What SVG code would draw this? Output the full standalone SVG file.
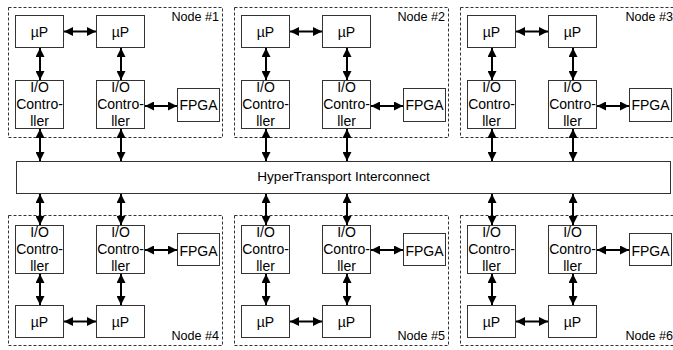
<svg xmlns="http://www.w3.org/2000/svg" width="673" height="350" viewBox="0 0 673 350">
<style>
.bx{fill:#fff;stroke:#333;stroke-width:1}
.ns{fill:none;stroke:#333;stroke-width:1;stroke-dasharray:3,2}
.t{font-family:"Liberation Sans",Arial,sans-serif;font-size:14px;fill:#000;text-anchor:middle}
.h{font-family:"Liberation Sans",Arial,sans-serif;font-size:13.6px;fill:#000;text-anchor:middle}
.lb{font-family:"Liberation Sans",Arial,sans-serif;font-size:12.6px;fill:#000;text-anchor:end}
.c{fill:none;stroke:#000;stroke-width:2;marker-start:url(#ah);marker-end:url(#ah)}
</style>
<defs>
<marker id="ah" viewBox="0 0 10 10" refX="10" refY="5" markerWidth="9" markerHeight="9" markerUnits="userSpaceOnUse" orient="auto-start-reverse">
<path d="M0,0 L10,5 L0,10 z" fill="#000"/>
</marker>
</defs>
<rect width="673" height="350" fill="#fff"/>

<g id="node1">
<rect class="ns" x="8.5" y="7.5" width="214" height="130"/>
<text class="lb" x="219" y="21">Node #1</text>
<rect class="bx" x="15.5" y="15.5" width="48" height="32"/><text class="t" x="39.5" y="37">µP</text>
<rect class="bx" x="96.5" y="15.5" width="48" height="32"/><text class="t" x="120.5" y="37">µP</text>
<rect class="bx" x="15.5" y="80.5" width="48" height="48"/><text class="t" x="39.5" y="92">I/O</text><text class="t" x="39.5" y="109">Contro-</text><text class="t" x="39.5" y="126">ller</text>
<rect class="bx" x="96.5" y="80.5" width="48" height="48"/><text class="t" x="120.5" y="92">I/O</text><text class="t" x="120.5" y="109">Contro-</text><text class="t" x="120.5" y="126">ller</text>
<rect class="bx" x="177.5" y="88.5" width="42" height="33"/><text class="t" x="198.5" y="110">FPGA</text>
</g>

<g id="node2">
<rect class="ns" x="234.5" y="7.5" width="214" height="130"/>
<text class="lb" x="445" y="21">Node #2</text>
<rect class="bx" x="241.5" y="15.5" width="48" height="32"/><text class="t" x="265.5" y="37">µP</text>
<rect class="bx" x="322.5" y="15.5" width="48" height="32"/><text class="t" x="346.5" y="37">µP</text>
<rect class="bx" x="241.5" y="80.5" width="48" height="48"/><text class="t" x="265.5" y="92">I/O</text><text class="t" x="265.5" y="109">Contro-</text><text class="t" x="265.5" y="126">ller</text>
<rect class="bx" x="322.5" y="80.5" width="48" height="48"/><text class="t" x="346.5" y="92">I/O</text><text class="t" x="346.5" y="109">Contro-</text><text class="t" x="346.5" y="126">ller</text>
<rect class="bx" x="403.5" y="88.5" width="42" height="33"/><text class="t" x="424.5" y="110">FPGA</text>
</g>

<g id="node3">
<rect class="ns" x="460.5" y="7.5" width="214" height="130"/>
<text class="lb" x="673" y="21">Node #3</text>
<rect class="bx" x="467.5" y="15.5" width="48" height="32"/><text class="t" x="491.5" y="37">µP</text>
<rect class="bx" x="548.5" y="15.5" width="48" height="32"/><text class="t" x="572.5" y="37">µP</text>
<rect class="bx" x="467.5" y="80.5" width="48" height="48"/><text class="t" x="491.5" y="92">I/O</text><text class="t" x="491.5" y="109">Contro-</text><text class="t" x="491.5" y="126">ller</text>
<rect class="bx" x="548.5" y="80.5" width="48" height="48"/><text class="t" x="572.5" y="92">I/O</text><text class="t" x="572.5" y="109">Contro-</text><text class="t" x="572.5" y="126">ller</text>
<rect class="bx" x="629.5" y="88.5" width="42" height="33"/><text class="t" x="650.5" y="110">FPGA</text>
</g>

<g id="ht">
<rect class="bx" x="16.5" y="161.5" width="654" height="32"/>
<text class="h" x="343.5" y="180.5">HyperTransport Interconnect</text>
</g>

<g id="node4">
<rect class="ns" x="8.5" y="215.5" width="214" height="130"/>
<text class="lb" x="219" y="340">Node #4</text>
<rect class="bx" x="15.5" y="225.5" width="48" height="48"/><text class="t" x="39.5" y="236.5">I/O</text><text class="t" x="39.5" y="254">Contro-</text><text class="t" x="39.5" y="271">ller</text>
<rect class="bx" x="96.5" y="225.5" width="48" height="48"/><text class="t" x="120.5" y="236.5">I/O</text><text class="t" x="120.5" y="254">Contro-</text><text class="t" x="120.5" y="271">ller</text>
<rect class="bx" x="177.5" y="233.5" width="42" height="32"/><text class="t" x="198.5" y="256">FPGA</text>
<rect class="bx" x="15.5" y="305.5" width="48" height="32"/><text class="t" x="39.5" y="326.5">µP</text>
<rect class="bx" x="96.5" y="305.5" width="48" height="32"/><text class="t" x="120.5" y="326.5">µP</text>
</g>

<g id="node5">
<rect class="ns" x="234.5" y="215.5" width="214" height="130"/>
<text class="lb" x="445" y="340">Node #5</text>
<rect class="bx" x="241.5" y="225.5" width="48" height="48"/><text class="t" x="265.5" y="236.5">I/O</text><text class="t" x="265.5" y="254">Contro-</text><text class="t" x="265.5" y="271">ller</text>
<rect class="bx" x="322.5" y="225.5" width="48" height="48"/><text class="t" x="346.5" y="236.5">I/O</text><text class="t" x="346.5" y="254">Contro-</text><text class="t" x="346.5" y="271">ller</text>
<rect class="bx" x="403.5" y="233.5" width="42" height="32"/><text class="t" x="424.5" y="256">FPGA</text>
<rect class="bx" x="241.5" y="305.5" width="48" height="32"/><text class="t" x="265.5" y="326.5">µP</text>
<rect class="bx" x="322.5" y="305.5" width="48" height="32"/><text class="t" x="346.5" y="326.5">µP</text>
</g>

<g id="node6">
<rect class="ns" x="460.5" y="215.5" width="214" height="130"/>
<text class="lb" x="673" y="340">Node #6</text>
<rect class="bx" x="467.5" y="225.5" width="48" height="48"/><text class="t" x="491.5" y="236.5">I/O</text><text class="t" x="491.5" y="254">Contro-</text><text class="t" x="491.5" y="271">ller</text>
<rect class="bx" x="548.5" y="225.5" width="48" height="48"/><text class="t" x="572.5" y="236.5">I/O</text><text class="t" x="572.5" y="254">Contro-</text><text class="t" x="572.5" y="271">ller</text>
<rect class="bx" x="629.5" y="233.5" width="42" height="32"/><text class="t" x="650.5" y="256">FPGA</text>
<rect class="bx" x="467.5" y="305.5" width="48" height="32"/><text class="t" x="491.5" y="326.5">µP</text>
<rect class="bx" x="548.5" y="305.5" width="48" height="32"/><text class="t" x="572.5" y="326.5">µP</text>
</g>

<g id="connectors">
<path class="c" d="M64,31.5 H96"/><path class="c" d="M40,48 V80"/><path class="c" d="M121,48 V80"/><path class="c" d="M145,106 H177"/><path class="c" d="M40,129 V161"/><path class="c" d="M121,129 V161"/>
<path class="c" d="M290,31.5 H322"/><path class="c" d="M266,48 V80"/><path class="c" d="M347,48 V80"/><path class="c" d="M371,106 H403"/><path class="c" d="M266,129 V161"/><path class="c" d="M347,129 V161"/>
<path class="c" d="M516,31.5 H548"/><path class="c" d="M492,48 V80"/><path class="c" d="M573,48 V80"/><path class="c" d="M597,106 H629"/><path class="c" d="M492,129 V161"/><path class="c" d="M573,129 V161"/>
<path class="c" d="M40,194 V225"/><path class="c" d="M121,194 V225"/><path class="c" d="M40,274 V305"/><path class="c" d="M121,274 V305"/><path class="c" d="M145,250 H177"/><path class="c" d="M64,321.5 H96"/>
<path class="c" d="M266,194 V225"/><path class="c" d="M347,194 V225"/><path class="c" d="M266,274 V305"/><path class="c" d="M347,274 V305"/><path class="c" d="M371,250 H403"/><path class="c" d="M290,321.5 H322"/>
<path class="c" d="M492,194 V225"/><path class="c" d="M573,194 V225"/><path class="c" d="M492,274 V305"/><path class="c" d="M573,274 V305"/><path class="c" d="M597,250 H629"/><path class="c" d="M516,321.5 H548"/>
</g>
</svg>
